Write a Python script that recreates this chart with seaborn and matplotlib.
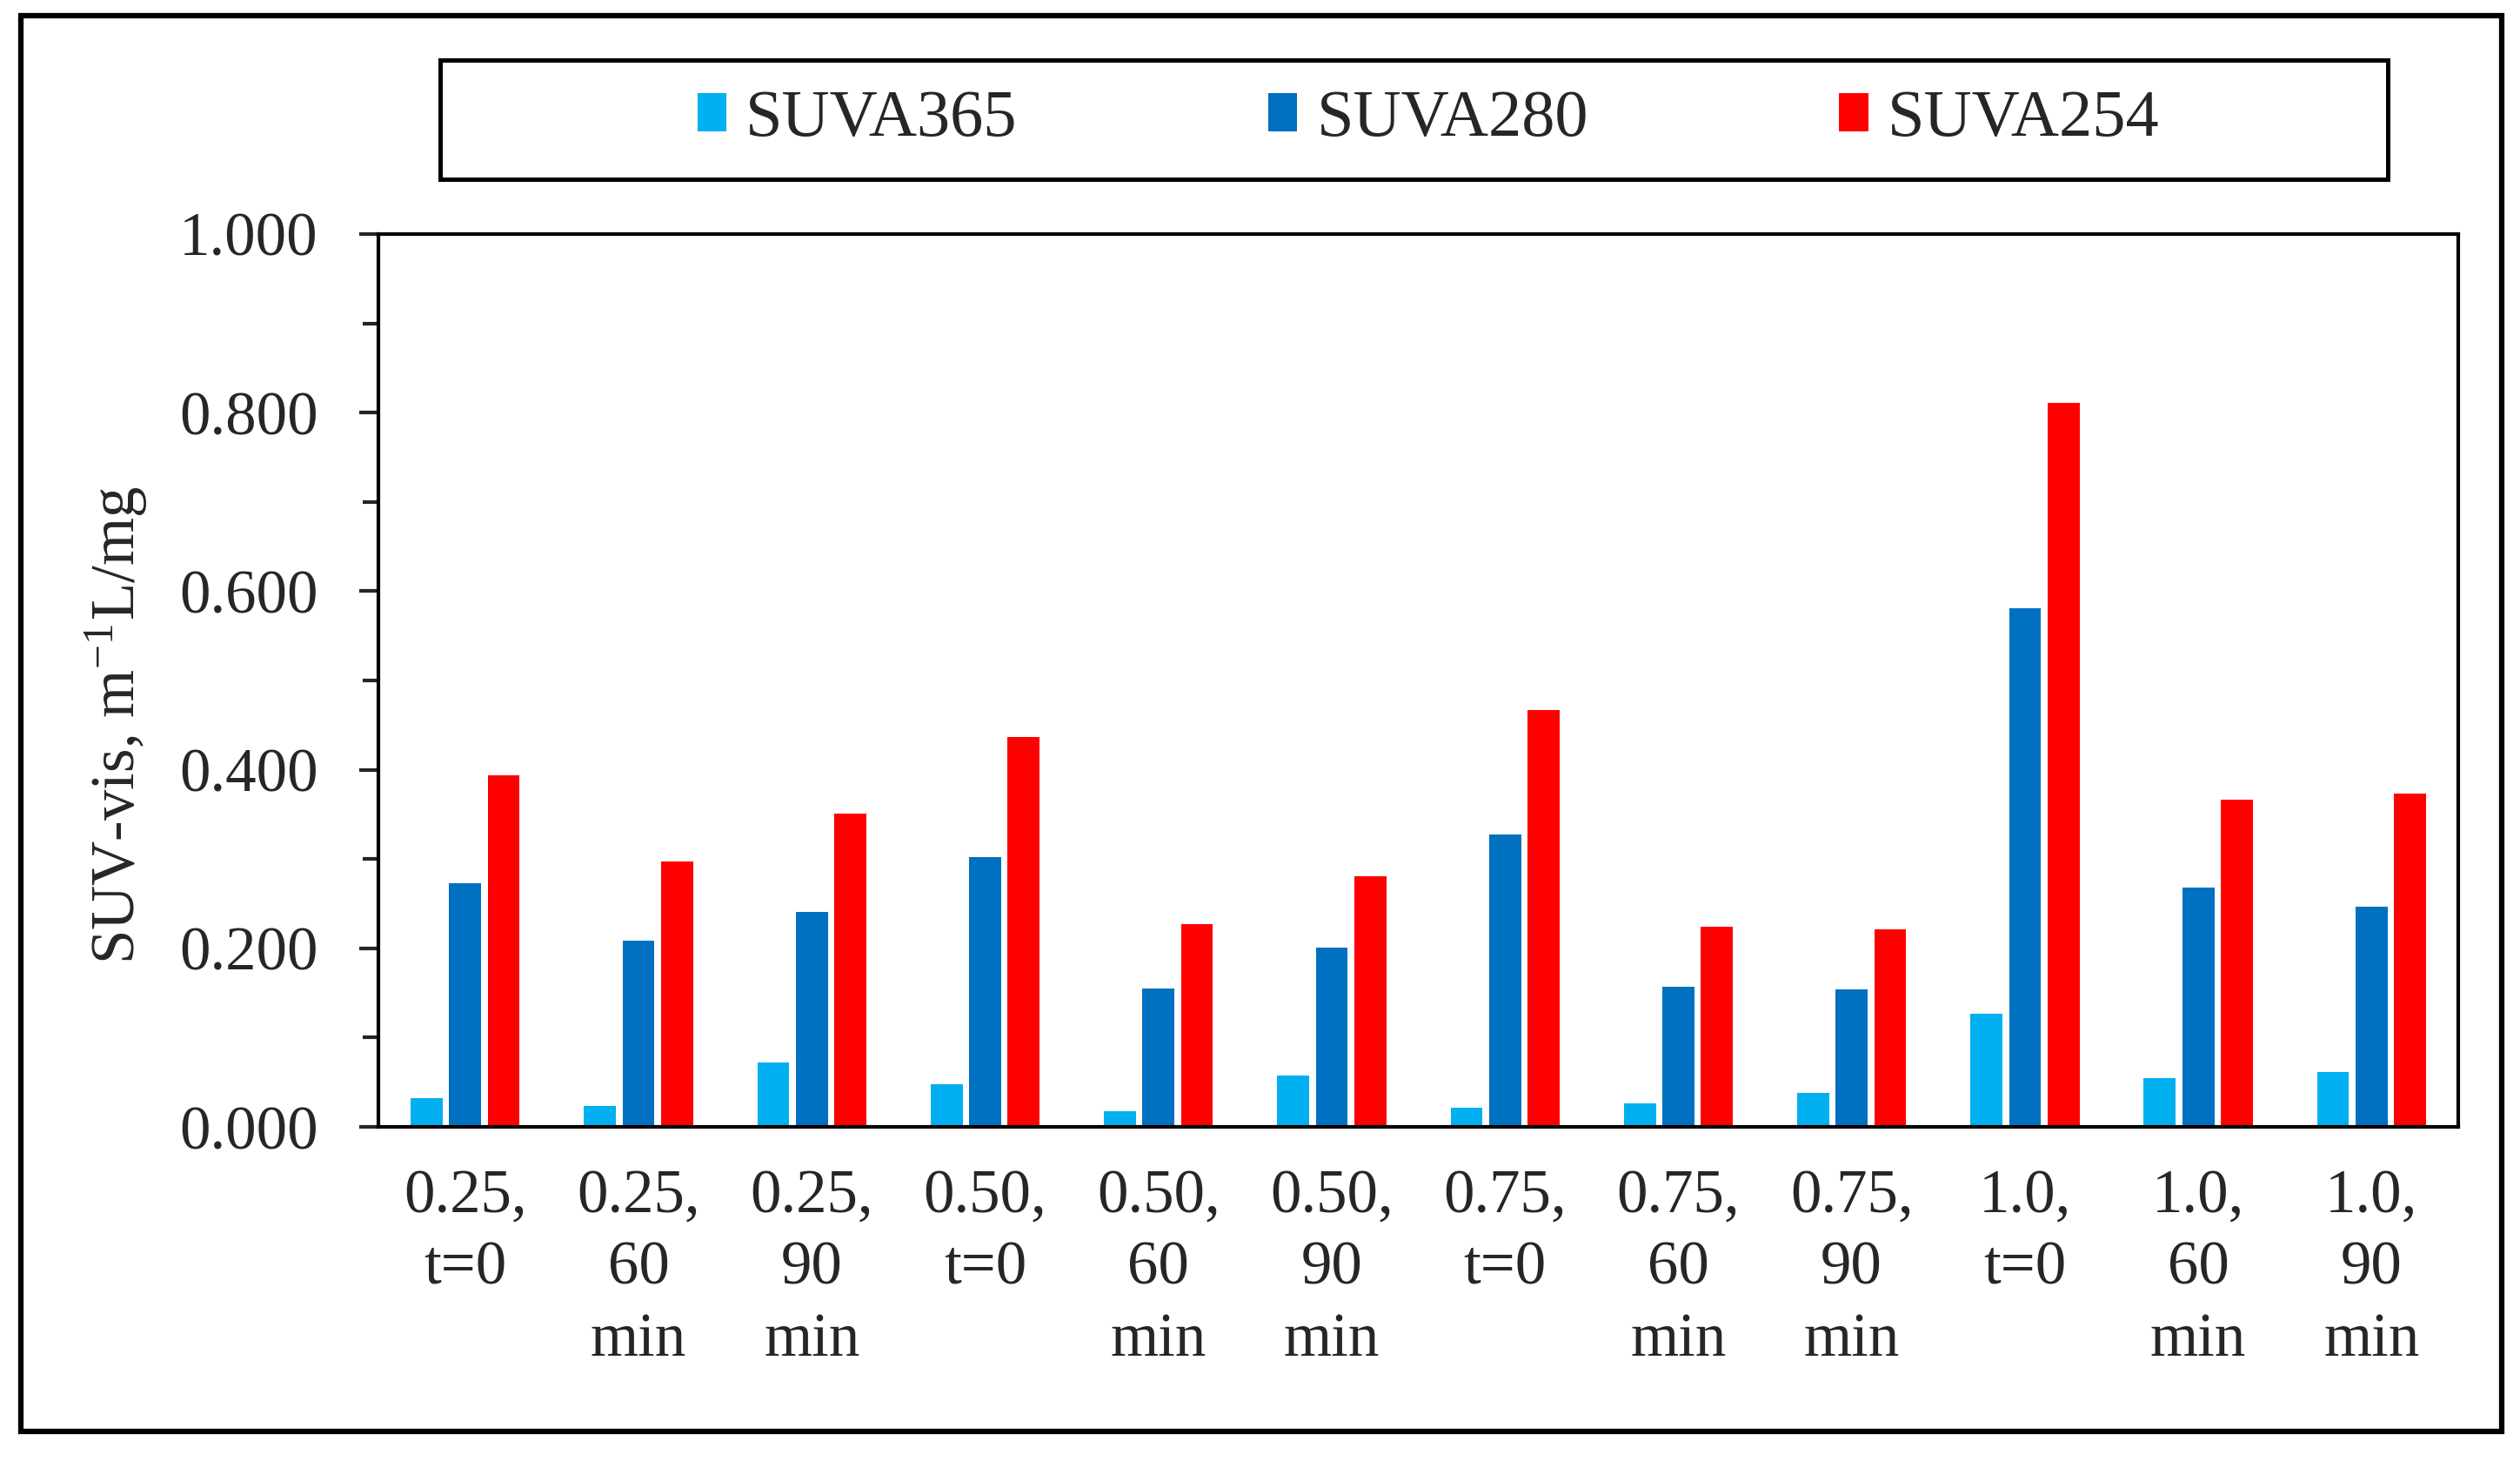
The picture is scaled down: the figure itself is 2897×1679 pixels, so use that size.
import pandas as pd
import matplotlib
matplotlib.use('Agg')
import matplotlib.pyplot as plt
import seaborn as sns
from matplotlib.patches import Rectangle

# 数据
categories = ['0.25,\nt=0', '0.25,\n60\nmin', '0.25,\n90\nmin',
              '0.50,\nt=0', '0.50,\n60\nmin', '0.50,\n90\nmin',
              '0.75,\nt=0', '0.75,\n60\nmin', '0.75,\n90\nmin',
              '1.0,\nt=0', '1.0,\n60\nmin', '1.0,\n90\nmin']
suva365 = [0.032, 0.023, 0.072, 0.048, 0.018, 0.058, 0.021, 0.026, 0.038, 0.127, 0.055, 0.061]
suva280 = [0.273, 0.209, 0.241, 0.302, 0.155, 0.201, 0.327, 0.157, 0.154, 0.581, 0.268, 0.247]
suva254 = [0.394, 0.297, 0.351, 0.437, 0.227, 0.281, 0.467, 0.224, 0.221, 0.811, 0.366, 0.373]
series_names = ['SUVA365', 'SUVA280', 'SUVA254']
colors = ['#00B0F0', '#0070C0', '#FF0000']
y_ticks = [0.0, 0.2, 0.4, 0.6, 0.8, 1.0]

df = pd.DataFrame({'cat': categories, 'SUVA365': suva365, 'SUVA280': suva280, 'SUVA254': suva254})
df_long = df.melt(id_vars='cat', value_vars=series_names, var_name='series', value_name='value')

sns.set_theme(style='ticks')
plt.rcParams['font.family'] = ['Liberation Serif', 'DejaVu Serif']
plt.rcParams['mathtext.fontset'] = 'stix'

fig = plt.figure(figsize=(28.97, 16.79), dpi=100)
ax = fig.add_axes([0.1502, 0.2287, 0.9755 - 0.1502, 0.8398 - 0.2287])

sns.barplot(data=df_long, x='cat', y='value', hue='series', hue_order=series_names,
            palette=colors, width=0.667, gap=0.17, linewidth=0, saturation=1,
            ax=ax)

ax.set_ylim(0, 1.0)
ax.set_yticks(y_ticks)
ax.set_yticklabels(['%.3f' % v for v in y_ticks])
ax.set_yticks([0.1, 0.3, 0.5, 0.7, 0.9], minor=True)
ax.set_xlabel('')
ax.set_ylabel(r'SUV-vis, m$^{\mathregular{-1}}$L/mg', fontsize=51)
ax.yaxis.set_label_coords(-0.11, 0.45)

for s in ax.spines.values():
    s.set_linewidth(3)
    s.set_color('black')
ax.tick_params(axis='y', which='major', length=16, width=3, pad=34, labelsize=51)
ax.tick_params(axis='y', which='minor', length=13, width=3)
ax.tick_params(axis='x', length=0, pad=35, labelsize=51)
for t in ax.get_xticklabels():
    t.set_linespacing(1.34)

# 图例
handles, labels = ax.get_legend_handles_labels()
ax.get_legend().remove()
fig.legend(handles, labels, loc='center', bbox_to_anchor=(0.5668, 0.918), ncol=3,
           frameon=False, fontsize=55, handlelength=0.44, handleheight=0.52,
           handletextpad=0.29, columnspacing=3.77)
fig.patches.append(Rectangle((0.1747, 0.8773), 0.7729, 0.0816, transform=fig.transFigure,
                             fill=False, edgecolor='black', linewidth=3.6))
# 外框
fig.patches.append(Rectangle((0.0083, 0.0203), 0.9845, 0.969, transform=fig.transFigure,
                             fill=False, edgecolor='black', linewidth=4.5))

fig.savefig('out.png', dpi=100)
